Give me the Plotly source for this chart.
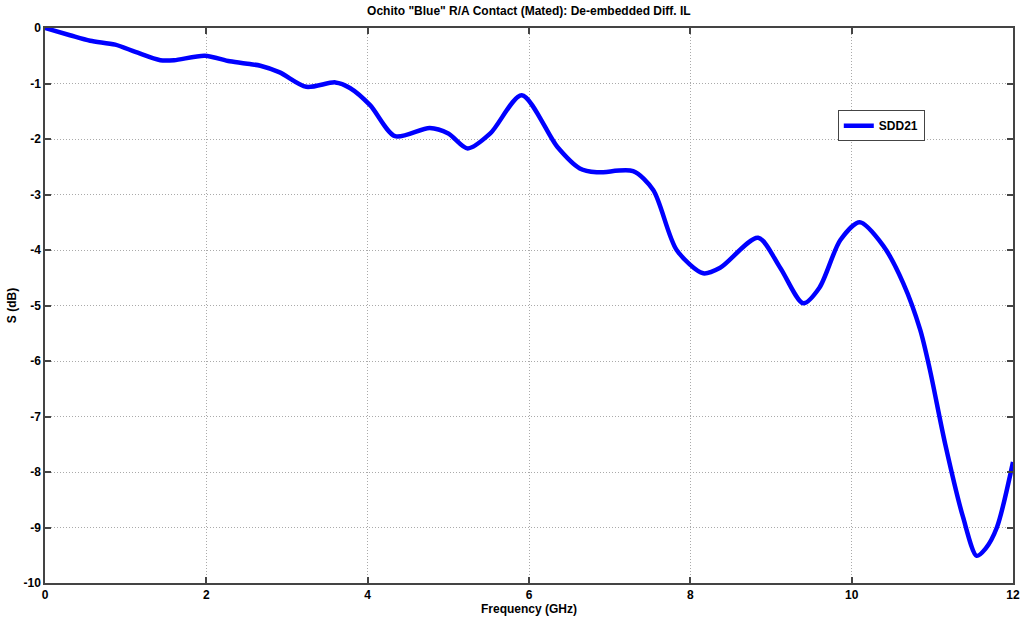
import plotly.graph_objects as go

freq_ghz = [0.0, 0.31, 0.56, 0.87, 1.12, 1.43, 1.6, 1.98, 2.29, 2.54, 2.67, 2.91, 3.24, 3.6, 3.78,
            4.03, 4.34, 4.77, 5.0, 5.24, 5.52, 5.91, 6.35, 6.63, 6.84, 7.29, 7.54, 7.83, 8.16,
            8.37, 8.84, 9.11, 9.4, 9.6, 9.86, 10.1, 10.39, 10.64, 10.85, 10.97, 11.16, 11.38,
            11.55, 11.66, 11.8, 12.0]
sdd21_db = [0.0, -0.13, -0.23, -0.3, -0.43, -0.58, -0.58, -0.5, -0.6, -0.65, -0.68, -0.8, -1.06,
            -0.98, -1.08, -1.39, -1.95, -1.8, -1.9, -2.17, -1.9, -1.21, -2.14, -2.53, -2.6, -2.58,
            -2.92, -4.0, -4.42, -4.32, -3.78, -4.31, -4.96, -4.68, -3.82, -3.5, -3.92, -4.6,
            -5.44, -6.16, -7.5, -8.81, -9.51, -9.38, -9.0, -7.82]

x_ticks = [0, 2, 4, 6, 8, 10, 12]
y_ticks = [0, -1, -2, -3, -4, -5, -6, -7, -8, -9, -10]

font_family = "Liberation Sans, Arial, sans-serif"

fig = go.Figure()
fig.add_trace(go.Scatter(
    x=freq_ghz, y=sdd21_db, mode="lines", name="<b>SDD21</b>",
    line=dict(color="#0000FF", width=4.5, shape="spline", smoothing=0.8),
))

axis_common = dict(
    showline=True, linecolor="#444444", linewidth=1.5, mirror="ticks",
    ticks="inside", ticklen=6, tickcolor="#444444", tickwidth=1.5,
    showgrid=True, gridcolor="#aaaaaa", griddash="1px,2px", gridwidth=1,
    zeroline=False, automargin=False,
    tickfont=dict(family=font_family, size=12, color="black", weight="bold"),
)

fig.update_layout(
    width=1021, height=618,
    margin=dict(l=45, r=8, t=28, b=35),
    paper_bgcolor="white", plot_bgcolor="white",
    title=dict(text='<b>Ochito "Blue" R/A Contact (Mated): De-embedded Diff. IL</b>',
               x=0.518, xanchor="center", y=0.982, yanchor="middle",
               font=dict(family=font_family, size=12, color="black")),
    xaxis=dict(range=[0, 12], tickvals=x_ticks, ticktext=[str(v) for v in x_ticks],
               title=dict(text="<b>Frequency (GHz)</b>", standoff=2,
                          font=dict(family=font_family, size=12, color="black")),
               **axis_common),
    yaxis=dict(range=[-10, 0], tickvals=y_ticks, ticktext=[str(v) for v in y_ticks],
               title=dict(text="<b>S (dB)</b>", standoff=4,
                          font=dict(family=font_family, size=12, color="black")),
               **axis_common),
    showlegend=True,
    legend=dict(x=0.819, y=0.852, xanchor="left", yanchor="top",
                bgcolor="white", bordercolor="#444444", borderwidth=1,
                font=dict(family=font_family, size=12, color="black"),
                itemwidth=30, tracegroupgap=0),
)

fig.write_html("out.html")
